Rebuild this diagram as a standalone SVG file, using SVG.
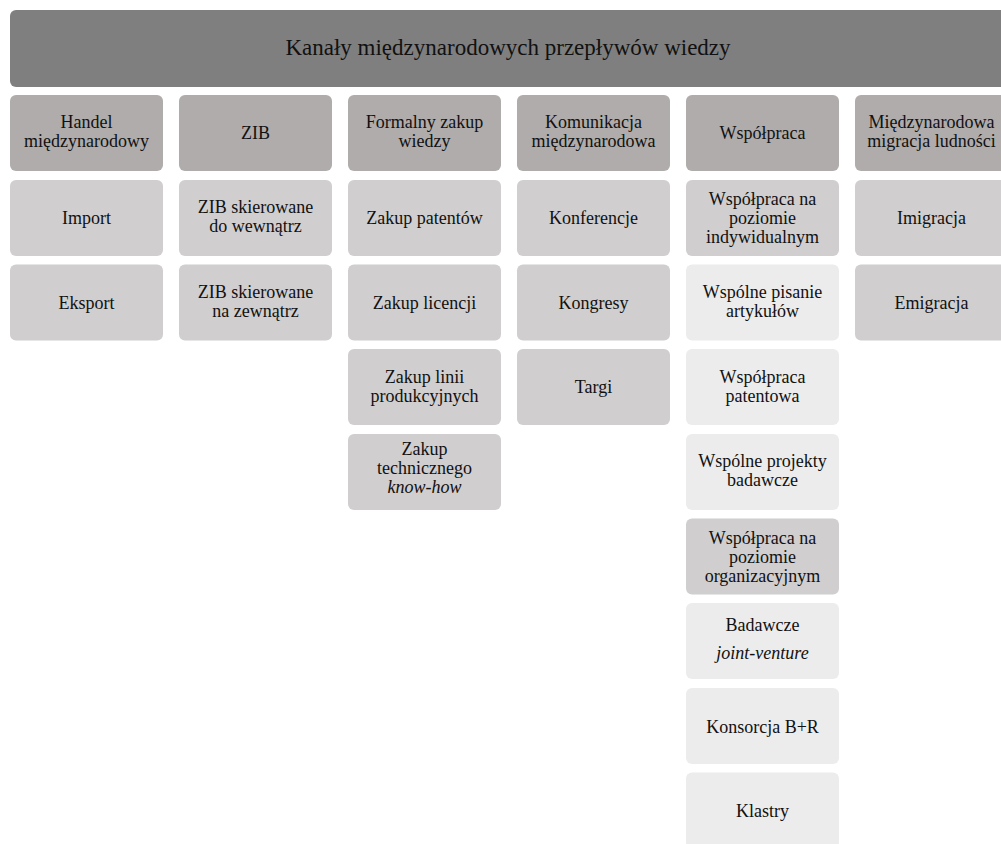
<svg xmlns="http://www.w3.org/2000/svg" width="1001" height="844" viewBox="0 0 1001 844" font-family="'Liberation Serif', 'Times New Roman', serif">
<style>
text{font-family:'Liberation Serif','Times New Roman',serif;font-size:18px;fill:#111;text-anchor:middle}
.hdr{fill:#7f7f7f}
.l1{fill:#afacab}
.l2{fill:#d0cecf}
.l3{fill:#ececec}
.title{font-size:23px}
.it{font-style:italic}
</style>
<rect width="1001" height="844" fill="#ffffff"/>
<g id="connectors"/>
<g id="root"><rect class="hdr" x="10" y="10" width="999" height="77" rx="6"/><text class="title" x="508" y="55">Kanały międzynarodowych przepływów wiedzy</text></g>

<g id="c1"><rect class="l1" x="10" y="95" width="153" height="76" rx="6"/><text x="86.5" y="128">Handel</text><text x="86.5" y="147">międzynarodowy</text></g>
<g id="c2"><rect class="l1" x="179" y="95" width="153" height="76" rx="6"/><text x="255.5" y="139">ZIB</text></g>
<g id="c3"><rect class="l1" x="348" y="95" width="153" height="76" rx="6"/><text x="424.5" y="128">Formalny zakup</text><text x="424.5" y="147">wiedzy</text></g>
<g id="c4"><rect class="l1" x="517" y="95" width="153" height="76" rx="6"/><text x="593.5" y="128">Komunikacja</text><text x="593.5" y="147">międzynarodowa</text></g>
<g id="c5"><rect class="l1" x="686" y="95" width="153" height="76" rx="6"/><text x="762.5" y="139">Współpraca</text></g>
<g id="c6"><rect class="l1" x="855" y="95" width="153" height="76" rx="6"/><text x="931.5" y="128">Międzynarodowa</text><text x="931.5" y="147">migracja ludności</text></g>

<g id="c1-import"><rect class="l2" x="10" y="180" width="153" height="76" rx="6"/><text x="86.5" y="224">Import</text></g>
<g id="c1-eksport"><rect class="l2" x="10" y="264.5" width="153" height="76" rx="6"/><text x="86.5" y="308.5">Eksport</text></g>

<g id="c2-in"><rect class="l2" x="179" y="180" width="153" height="76" rx="6"/><text x="255.5" y="213">ZIB skierowane</text><text x="255.5" y="232">do wewnątrz</text></g>
<g id="c2-out"><rect class="l2" x="179" y="264.5" width="153" height="76" rx="6"/><text x="255.5" y="297.5">ZIB skierowane</text><text x="255.5" y="316.5">na zewnątrz</text></g>

<g id="c3-patenty"><rect class="l2" x="348" y="180" width="153" height="76" rx="6"/><text x="424.5" y="224">Zakup patentów</text></g>
<g id="c3-licencje"><rect class="l2" x="348" y="264.5" width="153" height="76" rx="6"/><text x="424.5" y="308.5">Zakup licencji</text></g>
<g id="c3-linie"><rect class="l2" x="348" y="349" width="153" height="76" rx="6"/><text x="424.5" y="382.5">Zakup linii</text><text x="424.5" y="401.5">produkcyjnych</text></g>
<g id="c3-knowhow"><rect class="l2" x="348" y="434" width="153" height="76" rx="6"/><text x="424.5" y="454.5">Zakup</text><text x="424.5" y="473.5">technicznego</text><text x="424.5" y="492.5" class="it">know-how</text></g>

<g id="c4-konf"><rect class="l2" x="517" y="180" width="153" height="76" rx="6"/><text x="593.5" y="224">Konferencje</text></g>
<g id="c4-kongresy"><rect class="l2" x="517" y="264.5" width="153" height="76" rx="6"/><text x="593.5" y="308.5">Kongresy</text></g>
<g id="c4-targi"><rect class="l2" x="517" y="349" width="153" height="76" rx="6"/><text x="593.5" y="393">Targi</text></g>

<g id="c5-indyw"><rect class="l2" x="686" y="180" width="153" height="76" rx="6"/><text x="762.5" y="205">Współpraca na</text><text x="762.5" y="224">poziomie</text><text x="762.5" y="243">indywidualnym</text></g>
<g id="c5-artykuly"><rect class="l3" x="686" y="264.5" width="153" height="76" rx="6"/><text x="762.5" y="297.5">Wspólne pisanie</text><text x="762.5" y="316.5">artykułów</text></g>
<g id="c5-patent"><rect class="l3" x="686" y="349" width="153" height="76" rx="6"/><text x="762.5" y="382.5">Współpraca</text><text x="762.5" y="401.5">patentowa</text></g>
<g id="c5-projekty"><rect class="l3" x="686" y="434" width="153" height="76" rx="6"/><text x="762.5" y="467">Wspólne projekty</text><text x="762.5" y="486">badawcze</text></g>
<g id="c5-org"><rect class="l2" x="686" y="518.5" width="153" height="76" rx="6"/><text x="762.5" y="544">Współpraca na</text><text x="762.5" y="563">poziomie</text><text x="762.5" y="582">organizacyjnym</text></g>
<g id="c5-jv"><rect class="l3" x="686" y="603" width="153" height="76" rx="6"/><text x="762.5" y="630.5">Badawcze</text><text x="762.5" y="658.5" class="it">joint-venture</text></g>
<g id="c5-konsorcja"><rect class="l3" x="686" y="688" width="153" height="76" rx="6"/><text x="762.5" y="732.5">Konsorcja B+R</text></g>
<g id="c5-klastry"><rect class="l3" x="686" y="772.5" width="153" height="76" rx="6"/><text x="762.5" y="817">Klastry</text></g>

<g id="c6-imigracja"><rect class="l2" x="855" y="180" width="153" height="76" rx="6"/><text x="931.5" y="224">Imigracja</text></g>
<g id="c6-emigracja"><rect class="l2" x="855" y="264.5" width="153" height="76" rx="6"/><text x="931.5" y="308.5">Emigracja</text></g>
</svg>
